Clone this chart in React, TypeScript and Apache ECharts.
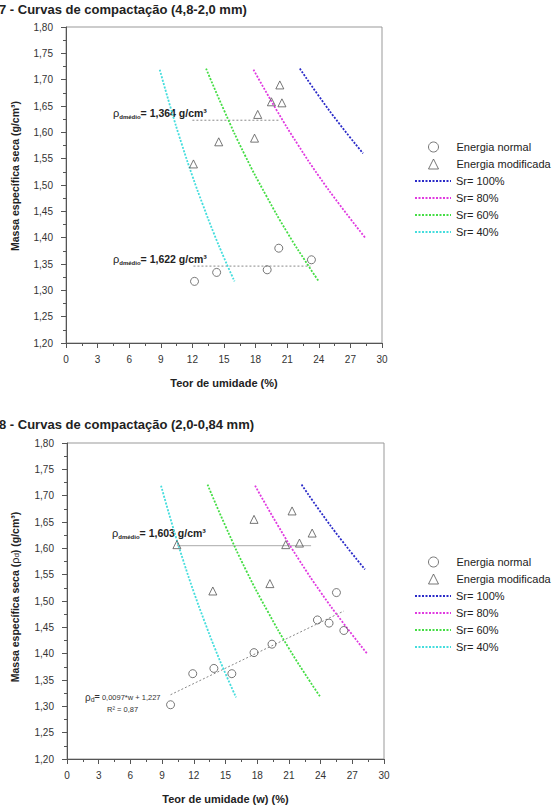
import React, { useEffect, useRef } from "react";
import * as echarts from "echarts";

// ---------- Data ----------
const SERIES_NAMES = ["Energia normal", "Energia modificada", "Sr= 100%", "Sr= 80%", "Sr= 60%", "Sr= 40%"];

// Chart 7 (4,8-2,0 mm)
const topNormalW = [12.2, 14.3, 19.1, 20.2, 23.3];
const topNormalRho = [1.317, 1.334, 1.339, 1.38, 1.358];
const topModW = [12.1, 14.5, 17.9, 18.2, 19.5, 20.3, 20.5];
const topModRho = [1.54, 1.582, 1.589, 1.634, 1.658, 1.69, 1.656];
const topRefHighW = [12.0, 20.3];
const topRefHighRho = [1.623, 1.623];
const topRefLowW = [12.1, 23.2];
const topRefLowRho = [1.346, 1.346];

// Chart 8 (2,0-0,84 mm)
const botNormalW = [9.8, 11.9, 13.9, 15.6, 17.7, 19.4, 23.7, 24.8, 26.2, 25.5];
const botNormalRho = [1.303, 1.362, 1.372, 1.362, 1.402, 1.418, 1.464, 1.458, 1.444, 1.516];
const botModW = [10.4, 13.8, 17.7, 19.2, 20.7, 21.3, 22.0, 23.2];
const botModRho = [1.607, 1.519, 1.655, 1.533, 1.607, 1.671, 1.61, 1.629];
const botRefW = [10.4, 23.1];
const botRefRho = [1.605, 1.605];
const botTrendW = [9.8, 26.2];
const botTrendRho = [1.322, 1.481];

// Saturation curves (same in both charts)
const sr100W = [22.2, 24, 26, 28.2];
const sr100Rho = [1.721, 1.669, 1.615, 1.56];
const sr80W = [17.8, 20, 22, 24, 26, 28.4];
const sr80Rho = [1.719, 1.642, 1.577, 1.517, 1.462, 1.4];
const sr60W = [13.3, 15, 17, 19, 21, 23, 24];
const sr60Rho = [1.721, 1.642, 1.556, 1.48, 1.41, 1.347, 1.317];
const sr40W = [8.9, 10, 11, 12, 13, 14, 15, 16];
const sr40Rho = [1.719, 1.642, 1.577, 1.517, 1.462, 1.41, 1.362, 1.317];

const SR_COLORS = ["#2a2ac8", "#e03ae0", "#44dd44", "#44dddd"];

const X_MIN = 0, X_MAX = 30, X_INT = 3;
const Y_MIN = 1.2, Y_MAX = 1.8, Y_INT = 0.05;

const FONT = '"Liberation Sans", Arial, sans-serif';

const zip = (a: number[], b: number[]) => a.map((v, i) => [v, b[i]]);

function makeAxes(idx: number) {
  const x = {
    type: "value",
    gridIndex: idx,
    min: X_MIN,
    max: X_MAX,
    interval: X_INT,
    axisLine: { show: true, onZero: false, lineStyle: { color: "#555", width: 1 } },
    axisTick: { show: true, length: 5, lineStyle: { color: "#555" } },
    minorTick: { show: true, splitNumber: 2, length: 3, lineStyle: { color: "#555" } },
    splitLine: { show: false },
    axisLabel: { fontSize: 10, color: "#333", margin: 11, fontFamily: FONT },
  };
  const y = {
    type: "value",
    gridIndex: idx,
    min: Y_MIN,
    max: Y_MAX,
    interval: Y_INT,
    axisLine: { show: true, onZero: false, lineStyle: { color: "#555", width: 1 } },
    axisTick: { show: true, length: 5, lineStyle: { color: "#555" } },
    minorTick: { show: true, splitNumber: 2, length: 3, lineStyle: { color: "#555" } },
    splitLine: { show: false },
    axisLabel: {
      fontSize: 10,
      color: "#333",
      margin: 13,
      fontFamily: FONT,
      formatter: (v: number) => v.toFixed(2).replace(".", ","),
    },
  };
  return { x, y };
}

function makeSeries(idx: number, normal: number[][], mod: number[][]) {
  const base = { xAxisIndex: idx, yAxisIndex: idx };
  const srList = [
    [SERIES_NAMES[2], zip(sr100W, sr100Rho), SR_COLORS[0]],
    [SERIES_NAMES[3], zip(sr80W, sr80Rho), SR_COLORS[1]],
    [SERIES_NAMES[4], zip(sr60W, sr60Rho), SR_COLORS[2]],
    [SERIES_NAMES[5], zip(sr40W, sr40Rho), SR_COLORS[3]],
  ] as any[];
  const s: any[] = srList.map(([name, data, color]) => ({
    ...base,
    type: "line",
    name,
    data,
    smooth: true,
    symbol: "none",
    color,
    lineStyle: { color, width: 1.8, type: [2, 1.5] },
    z: 3,
  }));
  s.push({
    ...base,
    type: "scatter",
    name: SERIES_NAMES[0],
    data: normal,
    symbol: "circle",
    symbolSize: 8,
    itemStyle: { color: "rgba(255,255,255,0)", borderColor: "#555", borderWidth: 1 },
    z: 5,
  });
  s.push({
    ...base,
    type: "scatter",
    name: SERIES_NAMES[1],
    data: mod,
    symbol: "triangle",
    symbolSize: 8,
    itemStyle: { color: "rgba(255,255,255,0)", borderColor: "#555", borderWidth: 1 },
    z: 5,
  });
  return s;
}

function refLine(idx: number, data: number[][], type: any, color: string) {
  return {
    xAxisIndex: idx,
    yAxisIndex: idx,
    type: "line",
    name: "ref",
    data,
    symbol: "none",
    silent: true,
    lineStyle: { color, width: 1, type },
    z: 2,
  };
}

const rhoRich = {
  r: { fontSize: 11, fontFamily: FONT, fill: "#222", lineHeight: 14 },
  s: { fontSize: 6, fontWeight: "bold", fontFamily: FONT, fill: "#222", lineHeight: 14, verticalAlign: "bottom", padding: [5, 0, 0, 0] },
  b: { fontSize: 10.5, fontWeight: "bold", fontFamily: FONT, fill: "#222", lineHeight: 14 },
};

function textEl(x: number, y: number, text: string, extra: any = {}, rot = 0) {
  return {
    type: "text",
    x,
    y,
    rotation: rot,
    silent: true,
    style: {
      text,
      fill: "#222",
      fontFamily: FONT,
      ...extra,
    },
  };
}

function legendsFor(top: number) {
  const textStyle = { fontSize: 11, color: "#222", fontFamily: FONT, lineHeight: 12 };
  return [
    {
      data: SERIES_NAMES.slice(0, 2),
      orient: "vertical",
      left: 423,
      top,
      itemWidth: 10,
      itemHeight: 10,
      itemGap: 5,
      itemStyle: { borderWidth: 1, borderColor: "#555", color: "rgba(255,255,255,0)" },
      textStyle: { ...textStyle, padding: [0, 0, 0, 13] },
      selectedMode: false,
    },
    {
      data: SERIES_NAMES.slice(2).map((n) => ({ name: n, itemStyle: { opacity: 0 } })),
      orient: "vertical",
      left: 409,
      top: top + 34,
      itemWidth: 36,
      itemHeight: 10,
      itemGap: 5,
      textStyle,
      selectedMode: false,
    },
  ];
}

export default function App() {
  const ref = useRef<HTMLDivElement>(null);
  useEffect(() => {
    if (!ref.current) return;
    const chart = echarts.init(ref.current, null, { renderer: "svg" });
    const a0 = makeAxes(0);
    const a1 = makeAxes(1);
    chart.setOption({
      animation: false,
      backgroundColor: "#fff",
      grid: [
        { left: 66, top: 27, width: 316, height: 316, show: true, borderColor: "#999", borderWidth: 1 },
        { left: 67, top: 443, width: 317, height: 316, show: true, borderColor: "#999", borderWidth: 1 },
      ],
      xAxis: [a0.x, a1.x],
      yAxis: [a0.y, a1.y],
      legend: [...legendsFor(136), ...legendsFor(551)],
      series: [
        ...makeSeries(0, zip(topNormalW, topNormalRho), zip(topModW, topModRho)),
        refLine(0, zip(topRefHighW, topRefHighRho), [2, 2], "#888"),
        refLine(0, zip(topRefLowW, topRefLowRho), [2, 2], "#888"),
        ...makeSeries(1, zip(botNormalW, botNormalRho), zip(botModW, botModRho)),
        refLine(1, zip(botRefW, botRefRho), "solid", "#aaa"),
        refLine(1, zip(botTrendW, botTrendRho), [2, 2], "#888"),
      ],
      graphic: [
        textEl(-1, 9, "7 - Curvas de compactação (4,8-2,0 mm)", { fontSize: 13, fontWeight: "bold", verticalAlign: "middle" }),
        textEl(-1, 424, "8 - Curvas de compactação (2,0-0,84 mm)", { fontSize: 13, fontWeight: "bold", verticalAlign: "middle" }),
        textEl(224, 383, "Teor de umidade (%)", { fontSize: 11, fontWeight: "bold", align: "center", verticalAlign: "middle" }),
        textEl(225.5, 799, "Teor de umidade (w) (%)", { fontSize: 11, fontWeight: "bold", align: "center", verticalAlign: "middle" }),
        textEl(15, 176, "Massa específica seca (g/cm³)", { fontSize: 10.5, fontWeight: "bold", align: "center", verticalAlign: "middle" }, Math.PI / 2),
        textEl(15, 597, "Massa específica seca ({r|ρ}{s|d}) (g/cm³)", {
          fontSize: 10.5, fontWeight: "bold", align: "center", verticalAlign: "middle",
          rich: {
            r: { fontSize: 11, fontFamily: FONT, fill: "#222" },
            s: { fontSize: 8, fontFamily: FONT, fill: "#222", verticalAlign: "bottom", padding: [3, 0, 0, 0] },
          },
        }, Math.PI / 2),
        textEl(113, 113, "{r|ρ}{s|dmédio}{b|= 1,364 g/cm³}", { verticalAlign: "middle", rich: rhoRich }),
        textEl(113, 259, "{r|ρ}{s|dmédio}{b|= 1,622 g/cm³}", { verticalAlign: "middle", rich: rhoRich }),
        textEl(112, 533, "{r|ρ}{s|dmédio}{b|= 1,603 g/cm³}", { verticalAlign: "middle", rich: rhoRich }),
        textEl(85, 697, "{r|ρ}{s|d}{e|=}{t| 0,0097*w + 1,227}", {
          verticalAlign: "middle",
          rich: {
            r: { fontSize: 10, fontFamily: FONT, fill: "#333", lineHeight: 12 },
            s: { fontSize: 7, fontFamily: FONT, fill: "#333", lineHeight: 12, verticalAlign: "bottom", padding: [3, 0, 0, 0] },
            e: { fontSize: 9, fontWeight: "bold", fontFamily: FONT, fill: "#333", lineHeight: 12 },
            t: { fontSize: 7.5, fontFamily: FONT, fill: "#333", lineHeight: 12 },
          },
        }),
        textEl(107, 709, "R² = 0,87", { fontSize: 7.5, fill: "#333", verticalAlign: "middle" }),
      ],
    });
    return () => chart.dispose();
  }, []);
  return (
    <div
      ref={ref}
      style={{ position: "fixed", left: 0, top: 0, width: 558, height: 806, background: "#fff" }}
    />
  );
}
